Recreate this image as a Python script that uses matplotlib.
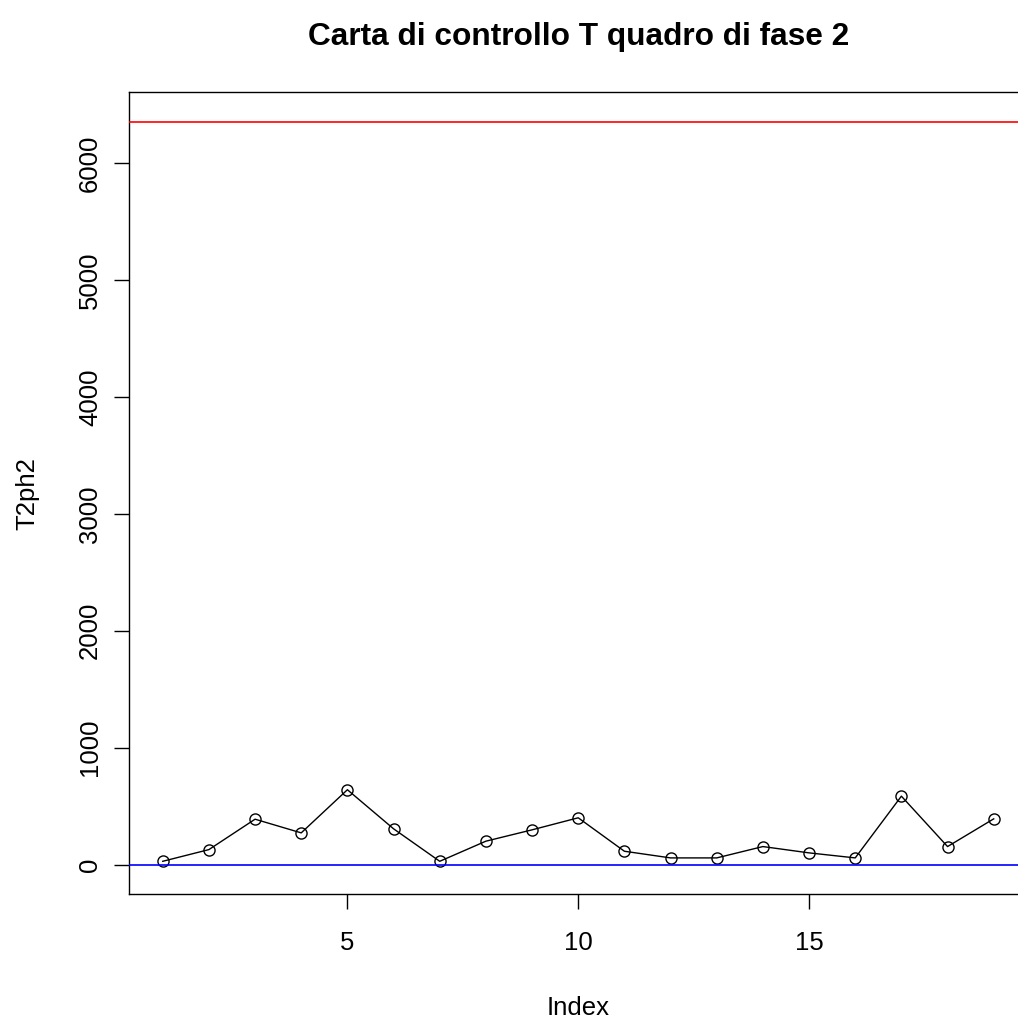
import matplotlib
matplotlib.use("Agg")
import matplotlib.pyplot as plt

plt.rcParams['font.family'] = ['Liberation Sans', 'DejaVu Sans']

# T^2 statistics for the phase 2 observations
index = list(range(1, 20))
t2ph2 = [28, 128, 388, 271, 640, 306, 28, 200, 297, 400,
         114, 57, 57, 154, 100, 57, 585, 154, 391]
ucl = 6350
lcl = 0

fig = plt.figure(figsize=(10.18, 10.19), dpi=100)
# plot region runs past the right edge of the figure
ax = fig.add_axes([0.1272, 0.1224, 0.8816, 0.787])

ax.plot(index, t2ph2, color='black', lw=1.0, marker='o', markersize=8,
        markerfacecolor='none', markeredgecolor='black', markeredgewidth=1.0,
        zorder=2)
ax.axhline(ucl, color='red', lw=1.2, zorder=3)
ax.axhline(lcl, color='blue', lw=1.2, zorder=3)

# R-style 4% padding around the data range
xr = index[-1] - index[0]
ax.set_xlim(index[0] - 0.04 * xr, index[-1] + 0.04 * xr)
yr = ucl - lcl
ax.set_ylim(lcl - 0.04 * yr, ucl + 0.04 * yr)

ax.set_xticks([5, 10, 15])
ax.set_yticks([0, 1000, 2000, 3000, 4000, 5000, 6000])
ax.tick_params(axis='both', direction='out', length=10.8, width=1.0,
               labelsize=18.5, colors='black')
ax.tick_params(axis='x', pad=16)
ax.tick_params(axis='y', pad=9, labelrotation=90)
for lab in ax.get_yticklabels():
    lab.set_va('center')

for s in ax.spines.values():
    s.set_linewidth(1.0)
    s.set_color('black')

ax.set_xlabel('Index', fontsize=18.5, labelpad=29)
ax.set_ylabel('T2ph2', fontsize=18.5, labelpad=28)
ax.set_title('Carta di controllo T quadro di fase 2', fontsize=22.8,
             fontweight='bold', pad=34)

fig.savefig('out.png', dpi=100)
